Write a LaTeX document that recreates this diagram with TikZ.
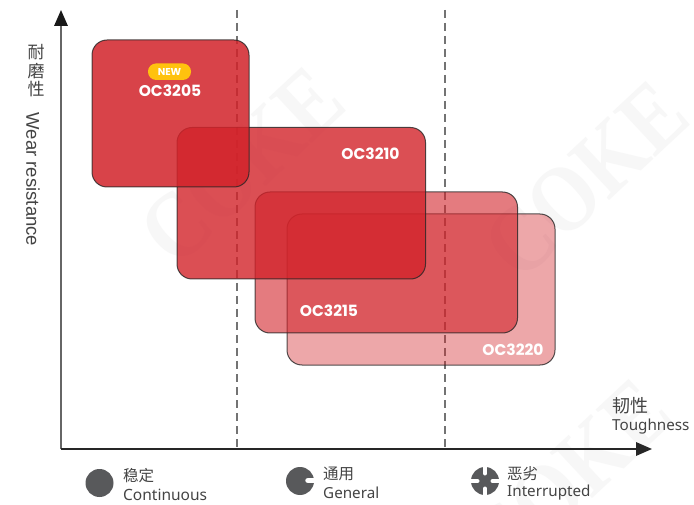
\documentclass[tikz,border=0pt]{standalone}
\usepackage{fontspec}
\setmainfont{Noto Sans}
\newfontfamily\cjkf{Noto Sans CJK SC}
\newfontfamily\popf{Poppins}
\newfontfamily\arialf{Liberation Sans}
\newfontfamily\wmf{Liberation Serif}
\usetikzlibrary{arrows.meta}
\definecolor{gbred}{HTML}{D2232A}
\definecolor{gbnew}{HTML}{FFC20E}
\definecolor{icongray}{HTML}{58595B}
\definecolor{labelgray}{HTML}{444444}
\definecolor{wmgray}{HTML}{F7F7F7}
\tikzset{
  gbox/.style={draw=black!85,draw opacity=.8,line width=1pt,fill=gbred,rounded corners=15pt,inner sep=0pt,anchor=center},
  gname/.style={text=white,font=\popf\bfseries\fontsize{15.5}{17}\selectfont,inner sep=0pt},
  axisline/.style={line width=1.7pt,-{Triangle[length=16pt,width=13.5pt]}},
  guide/.style={draw=black!55,line width=1.2pt,dash pattern=on 8pt off 5pt},
  cnlab/.style={text=labelgray,font=\cjkf\fontsize{15.5}{17}\selectfont,inner sep=0pt,anchor=west},
  enlab/.style={text=labelgray,font=\fontsize{15.2}{17}\selectfont,inner sep=0pt,anchor=west},
  wmark/.style={text=wmgray,font=\wmf\bfseries\fontsize{95}{95}\selectfont,rotate=43,inner sep=0pt},
  icondisc/.style={circle,fill=icongray,minimum size=28pt,inner sep=0pt},
  notch/.style={draw=white,line width=5pt,line cap=round},
}
\begin{document}
\begin{tikzpicture}[x=1pt,y=-1pt]
\useasboundingbox (0,0) rectangle (694,505);
\fill[white] (0,0) rectangle (694,505);
\begin{scope}
\clip (0,0) rectangle (694,505);
\node[wmark] (w1) at (242,166) {\scalebox{.85}[1]{COKE}};
\node[wmark] (w2) at (586,180) {\scalebox{.85}[1]{COKE}};
\node[wmark] (w3) at (569,478) {\scalebox{.85}[1]{COKE}};
\end{scope}
% guides and axes
\coordinate (o) at (61,449);
\coordinate (ytip) at (61,10);
\coordinate (xtip) at (652,449);
\coordinate (g1t) at (237,10);
\coordinate (g1b) at (237,449);
\coordinate (g2t) at (445,10);
\coordinate (g2b) at (445,449);
\draw[guide] (g1t) -- (g1b);
\draw[guide] (g2t) -- (g2b);
\draw[axisline,draw=black!60,-{Triangle[length=16pt,width=13.5pt,color=black!90]}] (o) -- (ytip);
\draw[axisline,draw=black!85] (o) -- (xtip);
% grade boxes
\node[gbox,minimum width=268pt,minimum height=151pt,fill opacity=.4] (b4) at (421,289.5) {};
\node[gbox,minimum width=262.5pt,minimum height=141pt,fill opacity=.6] (b3) at (386.25,262.5) {};
\node[gbox,minimum width=248.5pt,minimum height=151.5pt,fill opacity=.8] (b2) at (301.25,203.25) {};
\node[gbox,minimum width=157pt,minimum height=147pt,fill opacity=.85] (b1) at (170.5,113.5) {};
% names
\node[fill=gbnew,rounded corners=8pt,minimum width=43pt,minimum height=16.5pt,inner sep=0pt,text=white,font=\popf\bfseries\fontsize{10}{11}\selectfont] (new) at (169.5,71.7) {NEW};
\node[gname] (n1) at (170,91) {OC3205};
\node[gname] (n2) at (370.5,153.5) {OC3210};
\node[gname] (n3) at (329,310.5) {OC3215};
\node[gname] (n4) at (513,349.5) {OC3220};
% axis labels
\node[text=labelgray,font=\cjkf\fontsize{17}{18.5}\selectfont,align=center,inner sep=0pt] (yc) at (36,71) {耐\\磨\\性};
\node[text=labelgray,font=\arialf\fontsize{18.5}{20}\selectfont,rotate=-90,inner sep=0pt] (ye) at (33,179.5) {Wear resistance};
\node[cnlab,font=\cjkf\fontsize{18}{20}\selectfont] (xc) at (612,406) {韧性};
\node[enlab] (xe) at (612,427) {Toughness};
% legend
\node[icondisc] (i1) at (99.5,483) {};
\node[cnlab] (c1) at (123,476) {稳定};
\node[enlab,font=\fontsize{15.5}{17}\selectfont] (e1) at (123,494.5) {Continuous};
\node[icondisc] (i2) at (300,481) {};
\draw[notch,line width=5.5pt] (308,480.5) -- (316,480.5);
\node[cnlab] (c2) at (323,474) {通用};
\node[enlab] (e2) at (323,492.5) {General};
\node[icondisc] (i3) at (485,481) {};
\draw[notch,line width=4pt] (485,466) -- (485,473.5);
\draw[notch,line width=4pt] (485,488.5) -- (485,496);
\draw[notch,line width=4pt] (470,481) -- (477.5,481);
\draw[notch,line width=4pt] (492.5,481) -- (500,481);
\node[cnlab] (c3) at (507,474) {恶劣};
\node[enlab] (e3) at (507,492.5) {Interrupted};
\end{tikzpicture}
\end{document}
